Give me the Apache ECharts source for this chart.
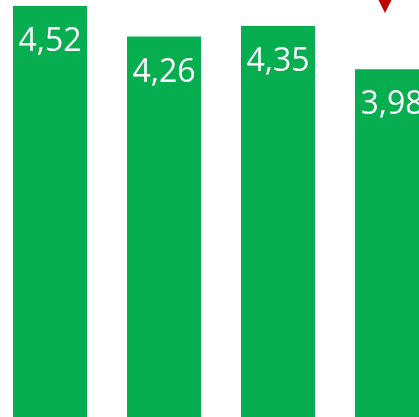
<!DOCTYPE html>
<html>
<head>
<meta charset="utf-8">
<script src="https://cdn.jsdelivr.net/npm/echarts@6/dist/echarts.min.js"></script>
<style>
  html, body { margin: 0; padding: 0; background: #fff; }
  #chart { width: 419px; height: 417px; }
</style>
</head>
<body>
<div id="chart"></div>
<script>
// 数据
var categories = ['A', 'B', 'C', 'D'];
var barValues = [4.52, 4.26, 4.35, 3.98];
var markerValues = [null, null, null, 4.571];

var yMin = 1.013;
var yMax = 4.571;

var myChart = echarts.init(document.getElementById('chart'));

var option = {
  animation: false,
  grid: { left: -7, width: 456, top: 0, bottom: 0, outerBoundsMode: 'none' },
  xAxis: {
    type: 'category',
    data: categories,
    show: false
  },
  yAxis: {
    type: 'value',
    min: yMin,
    max: yMax,
    show: false
  },
  series: [
    {
      type: 'bar',
      data: barValues,
      barWidth: 74,
      itemStyle: { color: '#06ae50' },
      label: {
        show: true,
        position: 'insideTop',
        distance: 20,
        color: '#fff',
        fontFamily: 'Open Sans',
        fontSize: 32,
        formatter: function (p) {
          return p.value.toFixed(2).replace('.', ',');
        }
      }
    },
    {
      type: 'scatter',
      data: markerValues,
      symbol: 'triangle',
      symbolRotate: 180,
      symbolSize: 26,
      symbolOffset: [-7, 0],
      itemStyle: { color: '#c00000', opacity: 1 },
      emphasis: { disabled: true },
      clip: false
    }
  ]
};

myChart.setOption(option);
</script>
</body>
</html>
